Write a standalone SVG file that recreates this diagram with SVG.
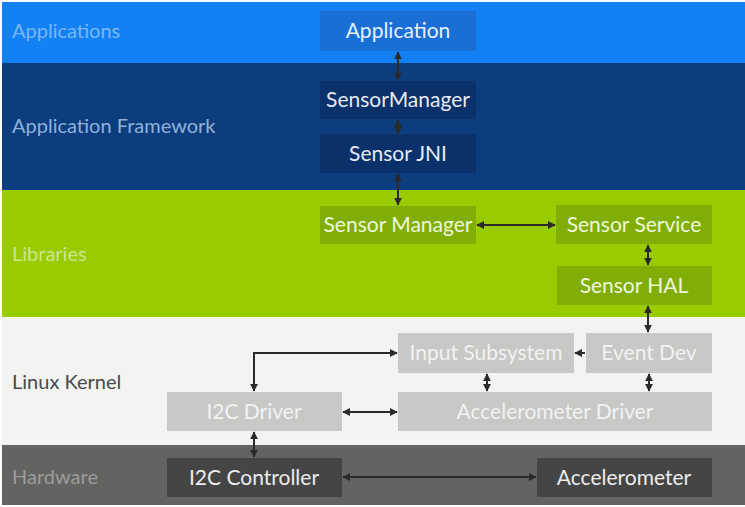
<svg xmlns="http://www.w3.org/2000/svg" width="745" height="507" viewBox="0 0 745 507">
<defs>
<style>
text{font-family:Lato,"Open Sans","Liberation Sans",sans-serif}
.lbl{font-size:20px}
.nt{font-size:21px;text-anchor:middle}
.c{fill:none;stroke:#2a2a2a;stroke-width:2}
</style>
<marker id="ah" viewBox="0 0 10 10" refX="9" refY="5" markerWidth="4" markerHeight="4" orient="auto-start-reverse">
<path d="M0,0 L10,5 L0,10 z" fill="#2a2a2a"/>
</marker>
</defs>
<rect x="0" y="0" width="745" height="507" fill="#ffffff"/>
<g id="bands">
<rect x="2" y="2" width="743" height="61" fill="#1380f4"/>
<rect x="2" y="63" width="743" height="127" fill="#0c3d7e"/>
<rect x="2" y="190" width="743" height="127" fill="#99cc00"/>
<rect x="2" y="317" width="743" height="128" fill="#f3f3f2"/>
<rect x="2" y="445" width="743" height="60" fill="#636362"/>
<text class="lbl" x="12" y="38" fill="#7ab8f3">Applications</text>
<text class="lbl" x="12" y="133" fill="#8fb2da">Application Framework</text>
<text class="lbl" x="12" y="261" fill="#cbe68c">Libraries</text>
<text class="lbl" x="12" y="389" fill="#4a4a4a">Linux Kernel</text>
<text class="lbl" x="12" y="484" fill="#9c9c9c">Hardware</text>
</g>
<g id="connectors">
<line class="c" x1="398" y1="52" x2="398" y2="80" marker-start="url(#ah)" marker-end="url(#ah)"/>
<line class="c" x1="398" y1="120" x2="398" y2="134" marker-start="url(#ah)" marker-end="url(#ah)"/>
<line class="c" x1="398" y1="174" x2="398" y2="205" marker-start="url(#ah)" marker-end="url(#ah)"/>
<line class="c" x1="477" y1="225" x2="555" y2="225" marker-start="url(#ah)" marker-end="url(#ah)"/>
<line class="c" x1="648" y1="245" x2="648" y2="265" marker-start="url(#ah)" marker-end="url(#ah)"/>
<line class="c" x1="648" y1="306" x2="648" y2="332" marker-start="url(#ah)" marker-end="url(#ah)"/>
<line class="c" x1="575" y1="353" x2="585" y2="353" marker-start="url(#ah)"/>
<line class="c" x1="487" y1="374" x2="487" y2="391" marker-start="url(#ah)" marker-end="url(#ah)"/>
<line class="c" x1="649" y1="374" x2="649" y2="391" marker-start="url(#ah)" marker-end="url(#ah)"/>
<polyline class="c" points="254,391 254,353 397,353" marker-start="url(#ah)" marker-end="url(#ah)"/>
<line class="c" x1="343" y1="412" x2="397" y2="412" marker-start="url(#ah)" marker-end="url(#ah)"/>
<line class="c" x1="254" y1="432" x2="254" y2="457" marker-start="url(#ah)" marker-end="url(#ah)"/>
<line class="c" x1="343" y1="477" x2="536" y2="477" marker-start="url(#ah)" marker-end="url(#ah)"/>
</g>
<g id="application"><rect x="320" y="11" width="156" height="40" fill="#1a6fd5"/><text class="nt" x="398" y="38" fill="#e6f0fb">Application</text></g>
<g id="sensormanager-fw"><rect x="320" y="81" width="156" height="38" fill="#0a3169"/><text class="nt" x="398" y="107" fill="#e6ebf2">SensorManager</text></g>
<g id="sensor-jni"><rect x="320" y="134" width="156" height="39" fill="#0a3169"/><text class="nt" x="398" y="161" fill="#e6ebf2">Sensor JNI</text></g>
<g id="sensor-manager"><rect x="320" y="206" width="156" height="38" fill="#80ae07"/><text class="nt" x="398" y="232" fill="#eef6dc">Sensor Manager</text></g>
<g id="sensor-service"><rect x="556" y="205" width="156" height="39" fill="#80ae07"/><text class="nt" x="634" y="232" fill="#eef6dc">Sensor Service</text></g>
<g id="sensor-hal"><rect x="557" y="266" width="155" height="39" fill="#80ae07"/><text class="nt" x="634" y="293" fill="#eef6dc">Sensor HAL</text></g>
<g id="input-subsystem"><rect x="398" y="333" width="176" height="40" fill="#c8c8c6"/><text class="nt" x="486" y="360" fill="#f2f2f2">Input Subsystem</text></g>
<g id="event-dev"><rect x="586" y="333" width="126" height="40" fill="#c8c8c6"/><text class="nt" x="649" y="360" fill="#f2f2f2">Event Dev</text></g>
<g id="i2c-driver"><rect x="167" y="392" width="175" height="39" fill="#c8c8c6"/><text class="nt" x="254" y="419" fill="#f2f2f2">I2C Driver</text></g>
<g id="accelerometer-driver"><rect x="398" y="392" width="314" height="39" fill="#c8c8c6"/><text class="nt" x="555" y="419" fill="#f2f2f2">Accelerometer Driver</text></g>
<g id="i2c-controller"><rect x="167" y="458" width="175" height="39" fill="#454545"/><text class="nt" x="254" y="485" fill="#ececec">I2C Controller</text></g>
<g id="accelerometer"><rect x="537" y="458" width="175" height="39" fill="#454545"/><text class="nt" x="624" y="485" fill="#ececec">Accelerometer</text></g>
</svg>
